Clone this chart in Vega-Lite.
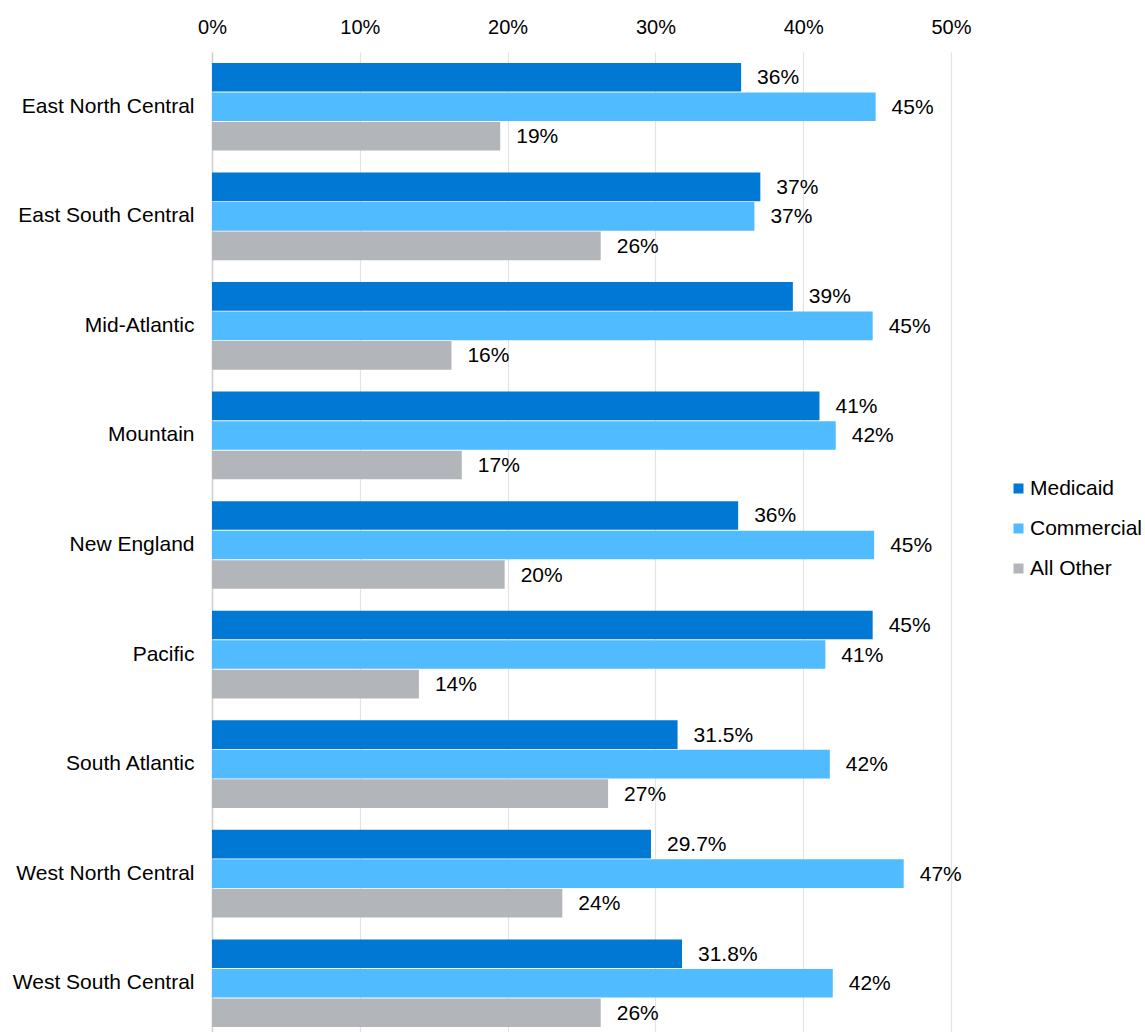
{
  "$schema": "https://vega.github.io/schema/vega-lite/v6.json",
  "autosize": "none",
  "width": 739,
  "height": 986,
  "padding": {"left": 212, "top": 52, "right": 194, "bottom": 0},
  "background": "white",
  "config": {
    "font": "Liberation Sans",
    "view": {"stroke": null}
  },
  "data": {
    "values": [
      {"region": "East North Central", "payer": "Medicaid", "value": 0.358, "label": "36%"},
      {"region": "East North Central", "payer": "Commercial", "value": 0.449, "label": "45%"},
      {"region": "East North Central", "payer": "All Other", "value": 0.195, "label": "19%"},
      {"region": "East South Central", "payer": "Medicaid", "value": 0.371, "label": "37%"},
      {"region": "East South Central", "payer": "Commercial", "value": 0.367, "label": "37%"},
      {"region": "East South Central", "payer": "All Other", "value": 0.263, "label": "26%"},
      {"region": "Mid-Atlantic", "payer": "Medicaid", "value": 0.393, "label": "39%"},
      {"region": "Mid-Atlantic", "payer": "Commercial", "value": 0.447, "label": "45%"},
      {"region": "Mid-Atlantic", "payer": "All Other", "value": 0.162, "label": "16%"},
      {"region": "Mountain", "payer": "Medicaid", "value": 0.411, "label": "41%"},
      {"region": "Mountain", "payer": "Commercial", "value": 0.422, "label": "42%"},
      {"region": "Mountain", "payer": "All Other", "value": 0.169, "label": "17%"},
      {"region": "New England", "payer": "Medicaid", "value": 0.356, "label": "36%"},
      {"region": "New England", "payer": "Commercial", "value": 0.448, "label": "45%"},
      {"region": "New England", "payer": "All Other", "value": 0.198, "label": "20%"},
      {"region": "Pacific", "payer": "Medicaid", "value": 0.447, "label": "45%"},
      {"region": "Pacific", "payer": "Commercial", "value": 0.415, "label": "41%"},
      {"region": "Pacific", "payer": "All Other", "value": 0.140, "label": "14%"},
      {"region": "South Atlantic", "payer": "Medicaid", "value": 0.315, "label": "31.5%"},
      {"region": "South Atlantic", "payer": "Commercial", "value": 0.418, "label": "42%"},
      {"region": "South Atlantic", "payer": "All Other", "value": 0.268, "label": "27%"},
      {"region": "West North Central", "payer": "Medicaid", "value": 0.297, "label": "29.7%"},
      {"region": "West North Central", "payer": "Commercial", "value": 0.468, "label": "47%"},
      {"region": "West North Central", "payer": "All Other", "value": 0.237, "label": "24%"},
      {"region": "West South Central", "payer": "Medicaid", "value": 0.318, "label": "31.8%"},
      {"region": "West South Central", "payer": "Commercial", "value": 0.420, "label": "42%"},
      {"region": "West South Central", "payer": "All Other", "value": 0.263, "label": "26%"}
    ]
  },
  "encoding": {
    "y": {
      "field": "region", "type": "nominal", "sort": null, "title": null,
      "scale": {"paddingInner": 0.2, "paddingOuter": 0.1},
      "axis": {"labelFontSize": 21, "labelColor": "#000000", "labelPadding": 18, "labelLimit": 400, "ticks": false, "domain": true, "domainColor": "#d0d0d0", "domainWidth": 1.5}
    },
    "yOffset": {
      "field": "payer", "type": "nominal", "sort": ["Medicaid", "Commercial", "All Other"],
      "scale": {"paddingInner": 0.03}
    },
    "x": {
      "field": "value", "type": "quantitative", "title": null,
      "scale": {"domain": [0, 0.5], "nice": false},
      "axis": {"orient": "top", "format": ".0%", "values": [0, 0.1, 0.2, 0.3, 0.4, 0.5], "labelFontSize": 20, "labelColor": "#000000", "labelPadding": 15, "labelFlush": false, "ticks": false, "domain": false, "grid": true, "gridColor": "#e3e3e3", "gridWidth": 1.2}
    }
  },
  "layer": [
    {
      "mark": {"type": "bar"},
      "encoding": {
        "color": {
          "field": "payer", "type": "nominal", "sort": ["Medicaid", "Commercial", "All Other"],
          "scale": {"domain": ["Medicaid", "Commercial", "All Other"], "range": ["#0078D4", "#50BCFF", "#B2B5BA"]},
          "legend": {
            "title": null, "orient": "none", "legendX": 796, "legendY": 426,
            "symbolType": "square", "symbolSize": 100, "symbolStrokeWidth": 0,
            "labelFontSize": 21, "labelColor": "#000000", "labelOffset": 1, "rowPadding": 18
          }
        }
      }
    },
    {
      "mark": {"type": "text", "align": "left", "baseline": "middle", "dx": 16, "dy": 1, "fontSize": 21, "color": "#000000"},
      "encoding": {"text": {"field": "label"}}
    }
  ]
}
